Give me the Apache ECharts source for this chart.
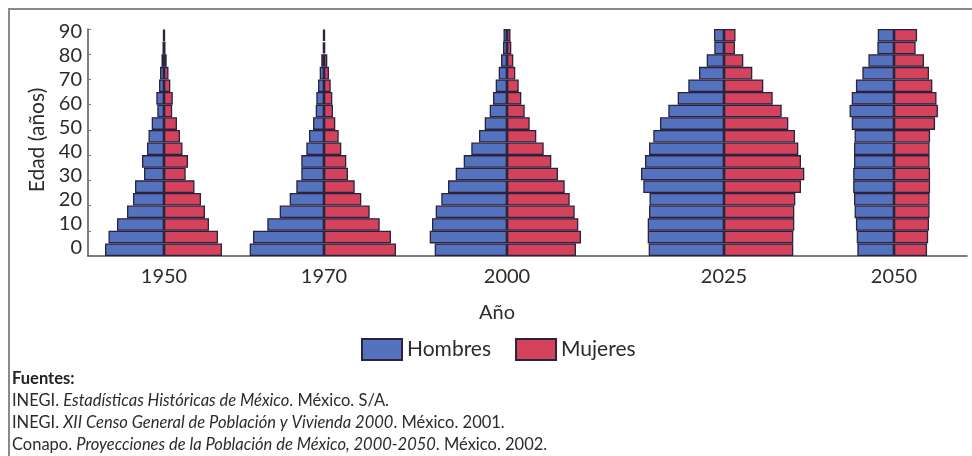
<!DOCTYPE html>
<html><head><meta charset="utf-8">
<script src="https://cdn.jsdelivr.net/npm/echarts@6/dist/echarts.min.js"></script>
<style>
html,body{margin:0;padding:0;background:#fff;}
#wrap{position:relative;width:972px;height:456px;overflow:hidden;background:#fff;}
#chart{width:972px;height:456px;}
#frame{position:absolute;left:8px;top:8px;width:980px;height:470px;border-top:2px solid #8a8a8a;border-left:2px solid #8a8a8a;pointer-events:none;}
</style></head>
<body><div id="wrap"><div id="chart"></div><div id="frame"></div></div>
<script>
// ---- data (relative bar half-widths, age groups bottom to top) ----
const ageGroups = ['0-4','5-9','10-14','15-19','20-24','25-29','30-34','35-39','40-44','45-49','50-54','55-59','60-64','65-69','70-74','75-79','80-84','85-89'];
const ageTicks = [0,10,20,30,40,50,60,70,80,90];
const years = ['1950','1970','2000','2025','2050'];
const hombres1950 = [59, 55.5, 47, 37, 31, 29, 20, 22, 17, 15.5, 12.3, 6.7, 7.7, 5, 4, 2.5, 1.5, 1];
const mujeres1950 = [58, 54, 45, 41, 37, 30.5, 21.7, 24, 18.5, 16, 13, 8.2, 8.8, 6.3, 4.5, 2.7, 1.5, 1];
const hombres1970 = [74.3, 71, 56.7, 44.3, 34.3, 27.7, 22.7, 22.7, 17.7, 15, 11, 8.3, 7.7, 6, 4.3, 2.7, 1.3, 1];
const mujeres1970 = [72, 67, 55.7, 45.7, 37.3, 30.7, 24, 22.3, 17.3, 14.7, 11.3, 9, 8.3, 6.7, 5, 3.3, 1.3, 1];
const hombres2000 = [72.3, 77.3, 75, 71.3, 65.7, 59, 51.3, 43.3, 35.7, 28, 22.3, 17.3, 14, 11.3, 8.3, 6, 4, 3.5];
const mujeres2000 = [69, 74, 71.3, 67.7, 62.7, 57.7, 51, 44.3, 36.7, 29.3, 22.7, 17.7, 14.3, 11.7, 8.3, 6.3, 4.3, 3.5];
const hombres2025 = [75.3, 76.3, 76.3, 75, 74.5, 80.7, 83, 79, 75, 70.7, 64, 55.7, 46.3, 35.7, 25, 17.3, 9.7, 10];
const mujeres2025 = [69.3, 69.3, 70.3, 70.3, 71.3, 77, 80.3, 77, 74.3, 71, 64.3, 57.7, 48.7, 39.3, 28.3, 19.3, 11, 11.5];
const hombres2050 = [44, 44.7, 45.7, 47.3, 48, 49, 49, 48, 48, 47.3, 50.7, 53.3, 50.7, 45.7, 38, 30.7, 20, 19.5];
const mujeres2050 = [39.7, 41, 42, 42.7, 42.7, 43.3, 43.3, 42.7, 42.7, 43.3, 49.3, 52.7, 51, 46, 42, 36, 26, 27.7];

const hombres = [hombres1950, hombres1970, hombres2000, hombres2025, hombres2050];
const mujeres = [mujeres1950, mujeres1970, mujeres2000, mujeres2025, mujeres2050];

// ---- layout ----
const FONT = 'Lato, "Open Sans", sans-serif';
const centers = [164, 324, 507, 724, 909];
const HALF = 90;
const TOP = 29, BOTTOM_Y = 256;
const blue = '#5472bd', red = '#d4425c', edge = '#2a2340';
const txt = '#2b2b2b';

const grids = [
  {left: 88, top: TOP, width: 967 - 88, height: BOTTOM_Y - TOP},
  {left: 88, top: 32, width: 1, height: 216}
];
const xAxes = [
  {type: 'value', gridIndex: 0, min: 0, max: 1, axisLine: {show: true, lineStyle: {color: '#555', width: 1.5}}, axisTick: {show: false}, axisLabel: {show: false}, splitLine: {show: false}},
  {type: 'value', gridIndex: 1, show: false}
];
const yAxes = [
  {type: 'category', gridIndex: 0, data: ageGroups, boundaryGap: true,
   axisLine: {show: true, lineStyle: {color: '#555', width: 1.5}},
   axisTick: {show: true, inside: true, length: 3, lineStyle: {color: '#777'}},
   axisLabel: {show: false}},
  {type: 'value', gridIndex: 1, min: ageTicks[0], max: ageTicks[ageTicks.length - 1], interval: 10,
   axisLine: {show: false}, axisTick: {show: false}, splitLine: {show: false},
   axisLabel: {fontFamily: FONT, fontSize: 20, color: txt, margin: 6},
   name: 'Edad (años)', nameLocation: 'middle', nameGap: 40, nameRotate: 90,
   nameTextStyle: {fontFamily: FONT, fontSize: 21, color: txt}}
];
const series = [];
years.forEach((yr, i) => {
  const gi = grids.length;
  grids.push({left: centers[i] - HALF, width: 2 * HALF, top: TOP, height: BOTTOM_Y - TOP});
  xAxes.push({type: 'value', gridIndex: gi, min: -HALF, max: HALF, interval: HALF,
    axisLine: {show: false}, axisTick: {show: false}, splitLine: {show: false},
    axisLabel: {formatter: v => v === 0 ? yr : '', fontFamily: FONT, fontSize: 20, color: txt, margin: 11}});
  yAxes.push({type: 'category', gridIndex: gi, data: ageGroups, show: false});
  const ax = xAxes.length - 1, ay = yAxes.length - 1;
  series.push({name: 'Hombres', type: 'bar', xAxisIndex: ax, yAxisIndex: ay,
    data: hombres[i].map(v => -v), barCategoryGap: '0%', barGap: '-100%',
    itemStyle: {color: blue, borderColor: edge, borderWidth: 1.3}, silent: true});
  series.push({name: 'Mujeres', type: 'bar', xAxisIndex: ax, yAxisIndex: ay,
    data: mujeres[i], barCategoryGap: '0%', barGap: '-100%',
    itemStyle: {color: red, borderColor: edge, borderWidth: 1.3}, silent: true});
});

const rich = {i: {fontStyle: 'italic', fontFamily: FONT, fontSize: 16.5, fill: txt}};
const chart = echarts.init(document.getElementById('chart'), null, {renderer: 'canvas'});
chart.setOption({
  animation: false,
  backgroundColor: 'transparent',
  grid: grids, xAxis: xAxes, yAxis: yAxes, series: series,
  legend: {data: ['Hombres', 'Mujeres'], left: 356, top: 333, itemWidth: 40, itemHeight: 21, itemGap: 24,
    icon: 'rect', textStyle: {fontFamily: FONT, fontSize: 21, color: txt}},
  graphic: [
    {type: 'text', left: 497 - 18, top: 303, style: {text: 'Año', font: '20px ' + FONT, fill: txt}},
    {type: 'text', left: 12, top: 370, style: {text: 'Fuentes:', font: 'bold 16.5px ' + FONT, fill: '#222'}},
    {type: 'text', left: 12, top: 392, style: {text: 'INEGI. {i|Estadísticas Históricas de México}. México. S/A.', font: '16.5px ' + FONT, fill: txt, rich: rich}},
    {type: 'text', left: 12, top: 414, style: {text: 'INEGI. {i|XII Censo General de Población y Vivienda 2000}. México. 2001.', font: '16.5px ' + FONT, fill: txt, rich: rich}},
    {type: 'text', left: 12, top: 436, style: {text: 'Conapo. {i|Proyecciones de la Población de México, 2000-2050}. México. 2002.', font: '16.5px ' + FONT, fill: txt, rich: rich}}
  ]
});
</script>
</body></html>
